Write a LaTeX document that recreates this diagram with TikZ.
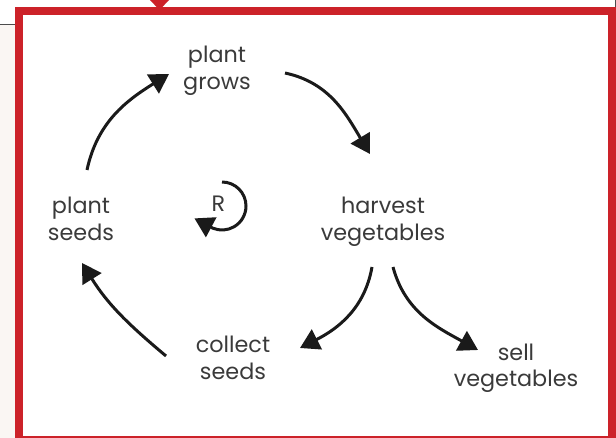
\documentclass[tikz,border=0pt]{standalone}
\usepackage{fontspec}
\setmainfont{Poppins}
\usetikzlibrary{arrows.meta}
\definecolor{frameRed}{HTML}{CC2229}
\definecolor{txt}{HTML}{3A3A3A}
\definecolor{beige}{HTML}{FAF6F3}
\definecolor{ink}{HTML}{1A1A1A}
\begin{document}
\begin{tikzpicture}[x=1pt,y=1pt,
  lbl/.style={font=\fontsize{22.3}{27}\selectfont, text=txt, align=center, inner sep=0pt, anchor=base},
  conn/.style={line width=3pt, draw=ink, -{Triangle[width=22pt,length=19pt]}}]
\useasboundingbox (0,0) rectangle (616,-438);
\clip (0,0) rectangle (616,-438);
% background pieces
\fill[beige] (0,-25) rectangle (15,-438);
\draw[line width=1pt, draw=black!70] (0,-25) -- (15,-25);
\draw[line width=1pt, draw=black!70] (615.5,0) -- (615.5,-7);
% frame
\draw[frameRed, line width=7.6pt] (18.8,-11) rectangle (612,-439.8);
\fill[frameRed] (149,1) -- (170,1) -- (159.5,-10) -- cycle;
% labels (base anchor = baseline of the last line)
\node[lbl] (grows) at (217,-90) {plant\\grows};
\node[lbl] (harvest) at (383,-241) {harvest\\vegetables};
\node[lbl] (plant) at (81,-241) {plant\\seeds};
\node[lbl] (collect) at (233,-379) {collect\\seeds};
\node[lbl] (sell) at (516,-387) {sell\\vegetables};
\node[lbl] (R) at (218.5,-212) {R};
% connector end points
\coordinate (p1s) at (87,-170);  \coordinate (p1e) at (169,-74);
\coordinate (p2s) at (285,-73);  \coordinate (p2e) at (370,-154);
\coordinate (p3s) at (372,-267); \coordinate (p3e) at (300,-348);
\coordinate (p4s) at (393,-267); \coordinate (p4e) at (478,-350);
\coordinate (p5s) at (166,-356); \coordinate (p5e) at (82,-263);
\coordinate (rtop) at (222,-182);
% connectors
\draw[conn] (p1s) to[out=78,in=212] (p1e);
\draw[conn] (p2s) to[out=-12,in=121] (p2e);
\draw[conn] (p3s) to[out=-100,in=27] (p3e);
\draw[conn] (p4s) to[out=-75,in=151] (p4e);
\draw[conn] (p5s) to[out=140,in=-58] (p5e);
\draw[conn] (rtop) arc[start angle=90,end angle=-112,radius=24] -- ++(152:21);
\end{tikzpicture}
\end{document}
